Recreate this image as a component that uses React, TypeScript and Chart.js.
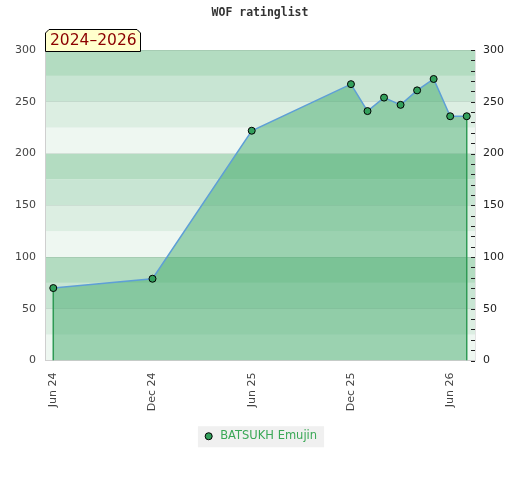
import React, { useEffect, useRef } from 'react';
import { Chart, registerables } from 'chart.js';

Chart.register(...registerables);

const chartTitle = 'WOF ratinglist';
const periodLabel = '2024–2026';
const seriesName = 'BATSUKH Emujin';

const pointMonths = ['2024-06', '2024-12', '2025-06', '2025-12', '2026-01', '2026-02', '2026-03', '2026-04', '2026-05', '2026-06', '2026-07'];
const ratings = [70, 79, 222, 267, 241, 254, 247, 261, 272, 236, 236];

const tickMonths = ['2024-06', '2024-12', '2025-06', '2025-12', '2026-06'];
const tickLabels = ['Jun 24', 'Dec 24', 'Jun 25', 'Dec 25', 'Jun 26'];

const yMin = 0;
const yMax = 300;
const yMajorStep = 50;
const yMinorStep = 10;
const bandStep = 25;
const bandColors = ['#eef7f1', '#dceee2', '#c8e5d3', '#b3dcc1'];

const lineColor = '#5e9fd6';
const edgeColor = '#2f9a55';
const fillColor = 'rgba(57,166,100,0.46)';
const pointColor = '#33a05c';
const legendTextColor = '#3aa856';

function monthIndex(s: string): number {
  const [y, m] = s.split('-').map(Number);
  return (y - 2024) * 12 + (m - 1);
}

const bgPlugin = {
  id: 'bgPlugin',
  beforeDraw(chart: any) {
    const { ctx, chartArea } = chart;
    const y = chart.scales.y;
    ctx.save();
    for (let v = yMin, i = 0; v < yMax; v += bandStep, i++) {
      const top = y.getPixelForValue(v + bandStep);
      const bottom = y.getPixelForValue(v);
      ctx.fillStyle = bandColors[i % bandColors.length];
      ctx.fillRect(chartArea.left, top, chartArea.right - chartArea.left, bottom - top);
    }
    ctx.fillStyle = '#333333';
    ctx.font = 'bold 11.5px "DejaVu Sans Mono"';
    ctx.textAlign = 'center';
    ctx.textBaseline = 'middle';
    ctx.fillText(chartTitle, chart.width / 2, 13);
    const legend = chart.legend;
    if (legend && legend.legendHitBoxes && legend.legendHitBoxes.length) {
      const hb = legend.legendHitBoxes[0];
      const cy = hb.top + hb.height / 2;
      ctx.fillStyle = '#f0f0f0';
      ctx.fillRect(hb.left - 5, cy - 10, hb.width + 12, 21);
    }
    ctx.restore();
  },
  afterDatasetsDraw(chart: any) {
    const { ctx, chartArea } = chart;
    const y2 = chart.scales.y2;
    ctx.save();
    ctx.strokeStyle = '#222222';
    ctx.lineWidth = 1;
    ctx.beginPath();
    y2.ticks.forEach((t: any) => {
      const py = Math.round(y2.getPixelForValue(t.value)) + 0.5;
      ctx.moveTo(chartArea.right - 4, py);
      ctx.lineTo(chartArea.right, py);
    });
    ctx.stroke();
    ctx.restore();
  },
  afterDraw(chart: any) {
    const { ctx, chartArea } = chart;
    const left = chartArea.left;
    const right = left + 96;
    const top = chartArea.top - 21;
    const bottom = chartArea.top + 1.5;
    const c = 4;
    ctx.save();
    ctx.beginPath();
    ctx.moveTo(left + 0.5, bottom);
    ctx.lineTo(left + 0.5, top + c);
    ctx.lineTo(left + c, top + 0.5);
    ctx.lineTo(right - c, top + 0.5);
    ctx.lineTo(right - 0.5, top + c);
    ctx.lineTo(right - 0.5, bottom);
    ctx.closePath();
    ctx.fillStyle = '#ffffcc';
    ctx.fill();
    ctx.strokeStyle = '#000000';
    ctx.lineWidth = 1;
    ctx.stroke();
    ctx.fillStyle = '#8b0000';
    ctx.font = '15.5px "DejaVu Sans"';
    ctx.textAlign = 'left';
    ctx.textBaseline = 'middle';
    ctx.fillText(periodLabel, left + 5, (top + bottom) / 2 + 0.5);
    ctx.restore();
  },
};

export default function App() {
  const canvasRef = useRef<HTMLCanvasElement | null>(null);

  useEffect(() => {
    const canvas = canvasRef.current;
    if (!canvas) return;
    const xs = pointMonths.map(monthIndex);
    const n = xs.length;
    const data = [
      { x: xs[0], y: 0 },
      ...xs.map((x, i) => ({ x, y: ratings[i] })),
      { x: xs[n - 1], y: 0 },
    ];
    const lastIdx = data.length - 1;
    const tickValues = tickMonths.map(monthIndex);

    const chart = new Chart(canvas, {
      type: 'line',
      data: {
        datasets: [
          {
            label: seriesName,
            data,
            fill: 'origin',
            backgroundColor: fillColor,
            borderColor: lineColor,
            borderWidth: 1.5,
            tension: 0,
            segment: {
              borderColor: (c: any) =>
                c.p0DataIndex === 0 || c.p1DataIndex === lastIdx ? edgeColor : lineColor,
            },
            pointRadius: (c: any) => (c.dataIndex === 0 || c.dataIndex === lastIdx ? 0 : 3.5),
            pointBackgroundColor: pointColor,
            pointBorderColor: '#000000',
            pointBorderWidth: 1,
          },
        ],
      },
      options: {
        animation: false,
        responsive: true,
        maintainAspectRatio: false,
        devicePixelRatio: 1,
        layout: { padding: { top: 50, bottom: 28, left: 0, right: 0 } },
        plugins: {
          title: { display: false },
          tooltip: { enabled: false },
          legend: {
            display: true,
            position: 'bottom',
            labels: {
              usePointStyle: true,
              boxWidth: 13,
              boxHeight: 5,
              padding: 10,
              color: legendTextColor,
              font: { family: '"DejaVu Sans"', size: 11.5 },
              generateLabels: () => [
                {
                  text: seriesName,
                  fillStyle: pointColor,
                  strokeStyle: '#000000',
                  lineWidth: 1,
                  pointStyle: 'circle',
                  fontColor: legendTextColor,
                  datasetIndex: 0,
                  hidden: false,
                },
              ],
            },
          },
        },
        scales: {
          x: {
            type: 'linear',
            min: 4.5,
            max: 30.5,
            afterBuildTicks: (scale: any) => {
              scale.ticks = tickValues.map((v) => ({ value: v }));
            },
            afterFit: (scale: any) => {
              scale.height = 60;
            },
            grid: { display: false, drawTicks: false },
            border: { display: true, color: '#cfcfcf', width: 1 },
            ticks: {
              autoSkip: false,
              minRotation: 90,
              maxRotation: 90,
              padding: 12,
              color: '#444444',
              font: { family: '"DejaVu Sans"', size: 11 },
              callback: (value: any) => {
                const i = tickValues.indexOf(Number(value));
                return i >= 0 ? tickLabels[i] : '';
              },
            },
          },
          y: {
            type: 'linear',
            position: 'left',
            min: yMin,
            max: yMax,
            afterFit: (scale: any) => {
              scale.width = 45;
            },
            grid: { color: 'rgba(0,0,0,0.07)', lineWidth: 1, drawTicks: false },
            border: { display: true, color: '#cfcfcf', width: 1 },
            ticks: {
              stepSize: yMajorStep,
              padding: 9,
              color: '#444444',
              font: { family: '"DejaVu Sans"', size: 11 },
            },
          },
          y2: {
            type: 'linear',
            position: 'right',
            min: yMin,
            max: yMax,
            afterFit: (scale: any) => {
              scale.width = 45;
            },
            grid: { drawOnChartArea: false, drawTicks: false },
            border: { display: true, color: '#e4e4e4', width: 1 },
            ticks: {
              stepSize: yMinorStep,
              maxTicksLimit: 100,
              autoSkip: false,
              padding: 8,
              color: '#222222',
              font: { family: '"DejaVu Sans"', size: 11 },
              callback: (value: any) => (Number(value) % yMajorStep === 0 ? String(value) : ''),
            },
          },
        },
      },
      plugins: [bgPlugin],
    } as any);

    return () => {
      chart.destroy();
    };
  }, []);

  return (
    <div style={{ position: 'fixed', left: 0, top: 0, width: 520, height: 480, background: '#ffffff' }}>
      <canvas ref={canvasRef} />
    </div>
  );
}
